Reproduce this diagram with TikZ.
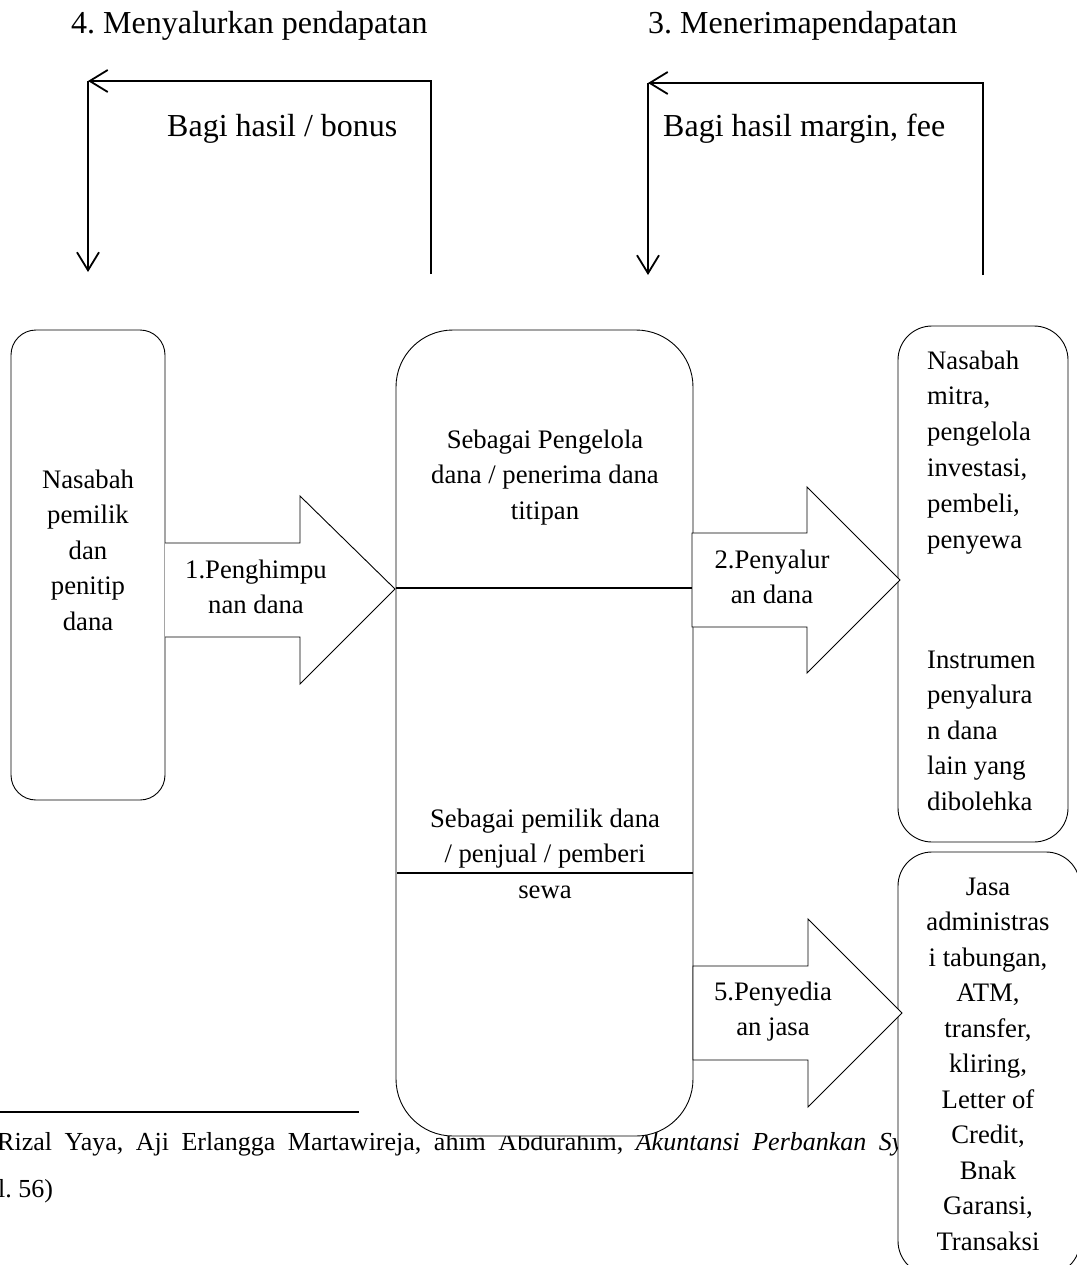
\documentclass[tikz,border=0pt]{standalone}
\usepackage{fontspec}
\setmainfont{Liberation Serif}
\usetikzlibrary{arrows.meta}
\frenchspacing
\begin{document}
\begin{tikzpicture}[x=1pt,y=-1pt,
  box/.style={draw, line width=0.9pt, fill=white, inner sep=0pt, outer sep=0pt},
  blk/.style={draw, line width=0.9pt, fill=white, line join=miter},
  bracket/.style={line width=1.8pt, -{Straight Barb[length=18pt,width=22pt,line width=1.8pt]}},
  divider/.style={line width=1.6pt},
  txt/.style={inner sep=0pt, anchor=base, font=\fontsize{26.7}{32}\selectfont},
  ltxt/.style={inner sep=0pt, anchor=base west, font=\fontsize{26.7}{32}\selectfont},
  big/.style={inner sep=0pt, anchor=base west, font=\fontsize{32}{38}\selectfont},
  foot/.style={inner sep=0pt, anchor=base west, font=\fontsize{26}{32}\selectfont}
]
\useasboundingbox (0,0) rectangle (1076,1265);

% footnote (drawn first, partly covered by boxes)
\coordinate (fnA) at (0,1112);
\coordinate (fnB) at (359,1112);
\draw[line width=1.5pt] (fnA) -- (fnB);
\node[foot] (fn1) at (-3,1150) {\spaceskip=12.5pt plus 2pt Rizal Yaya, Aji Erlangga Martawireja, ahim Abdurahim, \textit{Akuntansi Perbankan Sy}};
\node[foot] (fn2) at (-2,1197) {l. 56)};

% top labels
\node[big] (t4) at (71,34) {4. Menyalurkan pendapatan};
\node[big] (t3) at (648,34) {3. Menerimapendapatan};
\node[big] (b4) at (167,137) {Bagi hasil / bonus};
\node[big] (b3) at (663,137) {Bagi hasil margin, fee};

% left bracket
\coordinate (lbR) at (431,274);
\coordinate (lbC) at (88,81);
\coordinate (lbD) at (88,272);
\draw[bracket] (lbR) |- (lbC);
\draw[bracket] (lbC) -- (lbD);
% right bracket
\coordinate (rbR) at (983,275);
\coordinate (rbC) at (648,83);
\coordinate (rbD) at (648,275);
\draw[bracket] (rbR) |- (rbC);
\draw[bracket] (rbC) -- (rbD);

% boxes
\node[box, rounded corners=25pt, minimum width=154pt, minimum height=470pt] (pemilik) at (88,565) {};
\node[box, rounded corners=57pt, minimum width=297pt, minimum height=806pt] (bank) at (544.5,733) {};
\node[box, rounded corners=34pt, minimum width=170pt, minimum height=516pt] (mitra) at (983,584) {};
\node[box, rounded corners=34pt, minimum width=182pt, minimum height=423pt] (jasa) at (989,1063.5) {};

% dividers in the bank box
\coordinate (d1a) at (396,588);
\coordinate (d1b) at (692,588);
\coordinate (d2a) at (397,873);
\coordinate (d2b) at (693,873);
\draw[divider] (d1a) -- (d1b);
\draw[divider] (d2a) -- (d2b);

% block arrows
\draw[blk] (165,543) -- (300,543) -- (300,496) -- (395,589) -- (300,684) -- (300,637) -- (165,637);
\draw[blk] (692,533) -- (807,533) -- (807,487) -- (900,580) -- (807,673) -- (807,627) -- (692,627) -- cycle;
\draw[blk] (693,966) -- (808,966) -- (808,919) -- (902,1013) -- (808,1107) -- (808,1060) -- (693,1060) -- cycle;

% arrow labels
\node[txt] (a1a) at (256,578) {1.Penghimpu};
\node[txt] (a1b) at (256,613) {nan dana};
\node[txt] (a2a) at (772,568) {2.Penyalur};
\node[txt] (a2b) at (772,603) {an dana};
\node[txt] (a5a) at (773,1000) {5.Penyedia};
\node[txt] (a5b) at (773,1035) {an jasa};

% left box text
\foreach \t [count=\i] in {Nasabah,pemilik,dan,penitip,dana}
  \node[txt] (lt\i) at (88,{488+35.5*(\i-1)}) {\t};

% bank box text
\foreach \t [count=\i] in {Sebagai Pengelola,dana / penerima dana,titipan}
  \node[txt] (ct\i) at (545,{448+35.5*(\i-1)}) {\t};
\foreach \t [count=\i] in {Sebagai pemilik dana,/ penjual / pemberi,sewa}
  \node[txt] (cb\i) at (545,{827+35.5*(\i-1)}) {\t};

% right box 1 text
\foreach \t [count=\i] in {Nasabah,{mitra,},pengelola,{investasi,},{pembeli,},penyewa}
  \node[ltxt] (rt\i) at (927,{369+35.8*(\i-1)}) {\t};
\foreach \t [count=\i] in {Instrumen,penyalura,n dana,lain yang,dibolehka}
  \node[ltxt] (rb\i) at (927,{668+35.5*(\i-1)}) {\t};

% right box 2 text
\foreach \t [count=\i] in {Jasa,administras,{i tabungan,},{ATM,},{transfer,},{kliring,},Letter of,{Credit,},Bnak,{Garansi,},Transaksi}
  \node[txt] (jt\i) at (988,{895+35.5*(\i-1)}) {\t};
\end{tikzpicture}
\end{document}
